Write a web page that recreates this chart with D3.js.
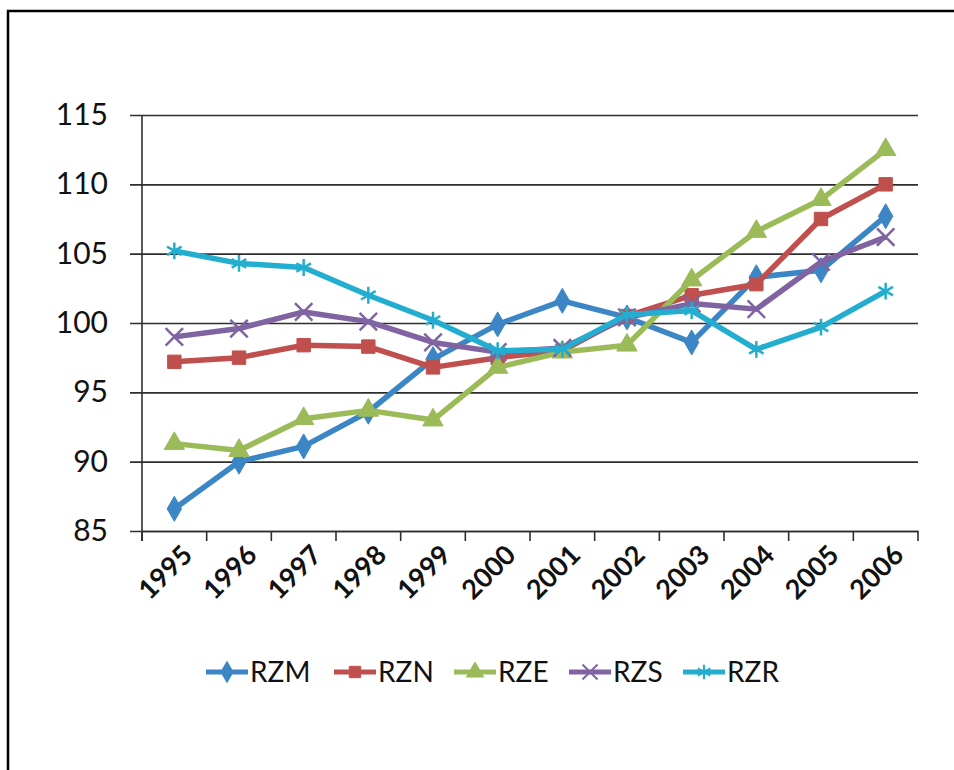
<!DOCTYPE html>
<html>
<head>
<meta charset="utf-8">
<title>RZ index 1995-2006</title>
<script src="https://d3js.org/d3.v7.min.js"></script>
<style>
  body { margin: 0; background: #fff; }
  svg { display: block; font-family: Lato, "Open Sans", sans-serif; }
</style>
</head>
<body>
<svg></svg>
<script>
// data
const years = ['1995','1996','1997','1998','1999','2000','2001','2002','2003','2004','2005','2006'];
const seriesNames = ['RZM', 'RZN', 'RZE', 'RZS', 'RZR'];
const rzm = [86.6, 90.0, 91.1, 93.6, 97.4, 99.9, 101.6, 100.4, 98.6, 103.3, 103.8, 107.7];
const rzn = [97.2, 97.5, 98.4, 98.3, 96.8, 97.5, 98.0, 100.5, 102.0, 102.8, 107.5, 110.0];
const rze = [91.3, 90.8, 93.1, 93.7, 93.0, 96.8, 97.9, 98.4, 103.1, 106.6, 108.9, 112.5];
const rzs = [99.0, 99.6, 100.8, 100.1, 98.6, 97.9, 98.2, 100.4, 101.4, 101.0, 104.4, 106.2];
const rzr = [105.2, 104.3, 104.0, 102.0, 100.2, 98.0, 98.1, 100.6, 100.9, 98.1, 99.7, 102.3];
const yTicks = [85, 90, 95, 100, 105, 110, 115];

const colors = ['#3d86c6', '#c0504d', '#9bbb59', '#8064a2', '#23aed0'];
const shapes = [d3.symbolDiamond, d3.symbolSquare, d3.symbolTriangle, d3.symbolTimes, d3.symbolAsterisk];
const filled = [true, true, true, false, false];
const values = [rzm, rzn, rze, rzs, rzr];

const W = 954, H = 770;
const plotL = 142, plotR = 918, plotT = 115, plotB = 531;

const svg = d3.select('svg').attr('width', W).attr('height', H);

// outer frame (only top and left visible)
svg.append('path')
  .attr('d', `M8,${H} V11 H${W}`)
  .attr('fill', 'none').attr('stroke', '#000').attr('stroke-width', 2.5);

const x = d3.scaleBand().domain(years).range([plotL, plotR]).padding(0);
const y = d3.scaleLinear().domain([85, 115]).range([plotB, plotT]);

// gridlines + y labels
const yAxis = svg.append('g').attr('transform', `translate(${plotL},0)`)
  .call(d3.axisLeft(y).tickValues(yTicks).tickSize(-(plotR - plotL)).tickPadding(34).tickFormat(d3.format('d')));
yAxis.select('.domain').remove();
yAxis.selectAll('.tick line').attr('stroke', '#2e2e2e').attr('stroke-width', 1.6)
  .attr('x1', -12);
yAxis.selectAll('.tick text').attr('font-size', 30).attr('fill', '#111').attr('font-family', 'Lato, sans-serif');

// y axis line
svg.append('line').attr('x1', plotL).attr('x2', plotL).attr('y1', plotT).attr('y2', plotB + 10)
  .attr('stroke', '#2e2e2e').attr('stroke-width', 1.6);

// x axis
const xAxis = svg.append('g').attr('transform', `translate(0,${plotB})`)
  .call(d3.axisBottom(x).tickSize(0).tickFormat(''));
xAxis.select('.domain').attr('stroke', '#2e2e2e').attr('stroke-width', 1.6);
xAxis.selectAll('.tick').remove();

// tick marks at category boundaries
const bounds = years.map(d => x(d)).concat([plotR]);
svg.append('g').selectAll('line').data(bounds).enter().append('line')
  .attr('x1', d => d).attr('x2', d => d).attr('y1', plotB).attr('y2', plotB + 10)
  .attr('stroke', '#2e2e2e').attr('stroke-width', 1.6);

// rotated year labels
svg.append('g').selectAll('text').data(years).enter().append('text')
  .attr('transform', d => `translate(${x(d) + x.bandwidth() / 2 + 13},${plotB + 19}) rotate(-45)`)
  .attr('text-anchor', 'end')
  .attr('dy', '0.35em')
  .attr('font-size', 27)
  .attr('font-weight', 'bold')
  .attr('fill', '#111')
  .text(d => d);

// lines + markers
const line = d3.line().x((d, i) => x(years[i]) + x.bandwidth() / 2).y(d => y(d));

seriesNames.forEach((name, s) => {
  const g = svg.append('g');
  g.append('path').datum(values[s])
    .attr('d', line)
    .attr('fill', 'none')
    .attr('stroke', colors[s])
    .attr('stroke-width', 5.5)
    .attr('stroke-linejoin', 'round');
  g.selectAll('path.m').data(values[s]).enter().append('path')
    .attr('class', 'm')
    .attr('transform', (d, i) => `translate(${x(years[i]) + x.bandwidth() / 2},${y(d)})`)
    .attr('d', d3.symbol().type(shapes[s]).size(filled[s] ? 180 : 200))
    .attr('fill', filled[s] ? colors[s] : 'none')
    .attr('stroke', colors[s])
    .attr('stroke-width', filled[s] ? 1 : 2.5);
});

// legend
const legendX = [206, 334, 454, 569, 683];
const legend = svg.append('g').attr('transform', 'translate(0,672)');
seriesNames.forEach((name, s) => {
  const g = legend.append('g').attr('transform', `translate(${legendX[s]},0)`);
  g.append('line').attr('x1', 0).attr('x2', 42).attr('y1', 0).attr('y2', 0)
    .attr('stroke', colors[s]).attr('stroke-width', 5);
  g.append('path').attr('transform', 'translate(21,0)')
    .attr('d', d3.symbol().type(shapes[s]).size(filled[s] ? 130 : 150))
    .attr('fill', filled[s] ? colors[s] : 'none')
    .attr('stroke', colors[s])
    .attr('stroke-width', filled[s] ? 1 : 2);
  g.append('text').attr('x', 44).attr('y', 0).attr('dy', '0.36em')
    .attr('font-size', 28).attr('fill', '#111').text(name);
});
</script>
</body>
</html>
